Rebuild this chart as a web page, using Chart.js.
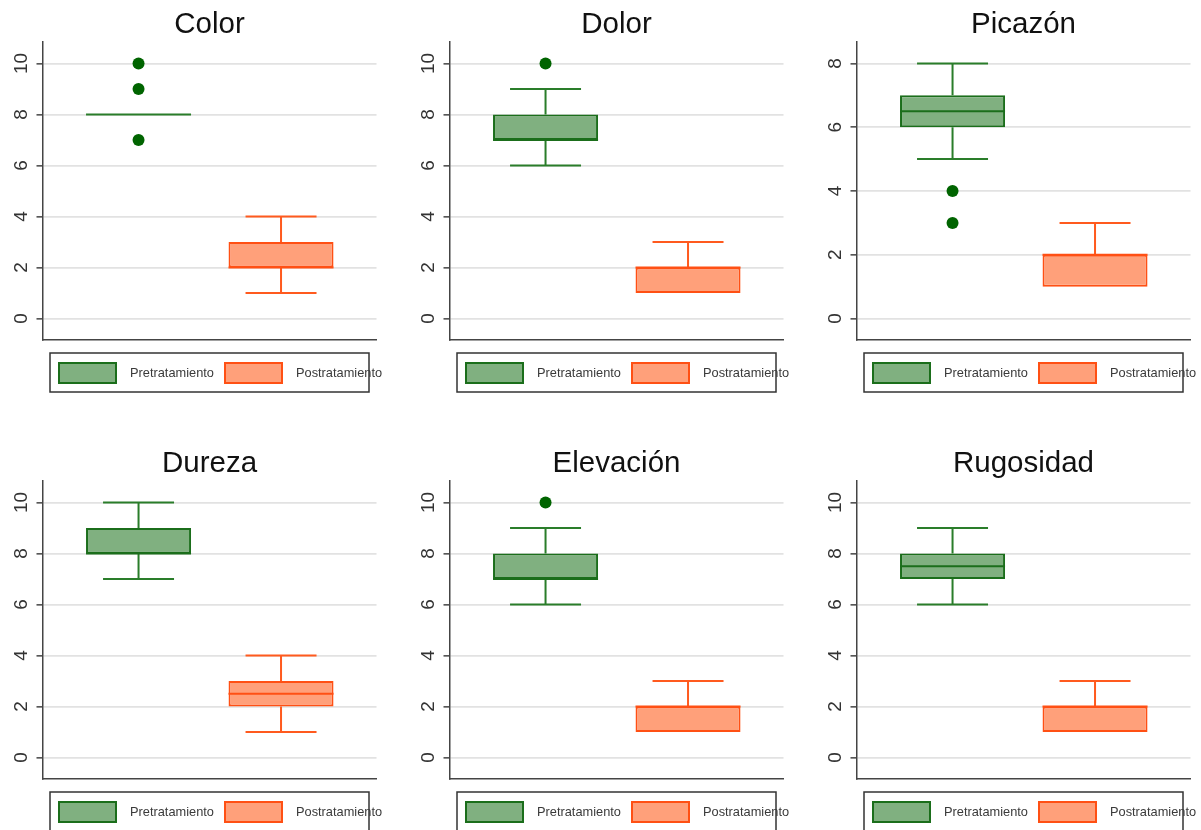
<!DOCTYPE html>
<html>
<head>
<meta charset="utf-8">
<script src="https://cdn.jsdelivr.net/npm/chart.js@4.4.1/dist/chart.umd.min.js"></script>
<style>
  html, body { margin: 0; padding: 0; background: #fff; width: 1201px; height: 830px; overflow: hidden; }
  #grid { position: relative; width: 1201px; height: 830px; }
  .panel { position: absolute; width: 407px; height: 439px; }
</style>
</head>
<body>
<div id="grid"></div>
<script>
// Box-plot summaries (score 0-10) before and after treatment, one entry per panel
const panelTitles = ['Color', 'Dolor', 'Picazón', 'Dureza', 'Elevación', 'Rugosidad'];
const seriesLabels = ['Pretratamiento', 'Postratamiento'];

const preMin      = [8, 6, 5,   7, 6, 6];
const preQ1       = [8, 7, 6,   8, 7, 7];
const preMedian   = [8, 7, 6.5, 8, 7, 7.5];
const preQ3       = [8, 8, 7,   9, 8, 8];
const preMax      = [8, 9, 8,  10, 9, 9];
const preOutliers = [[10, 9, 7], [10], [4, 3], [], [10], []];

const postMin      = [1, 1, 1, 1,   1, 1];
const postQ1       = [2, 1, 1, 2,   1, 1];
const postMedian   = [2, 2, 2, 2.5, 2, 2];
const postQ3       = [3, 2, 2, 3,   2, 2];
const postMax      = [4, 3, 3, 4,   3, 3];
const postOutliers = [[], [], [], [], [], []];

// Highest labelled tick on each panel's y axis, and tick spacing
const yTopTick = [10, 10, 8, 10, 10, 10];
const yTickStep = 2;

const FONT = "'Liberation Sans', Arial, Helvetica, sans-serif";
const PRE  = { fill: '#80b080', line: '#1b6e1b', whisker: '#2a7d2a', dot: '#006400' };
const POST = { fill: '#ffa07a', line: '#ff5014', whisker: '#ff5a1e' };

// Whiskers (behind the boxes) and median lines (on top of them)
function drawBoxParts(chart, part) {
  const y = chart.scales.y;
  const ctx = chart.ctx;
  chart.data.datasets.forEach((ds, k) => {
    if (!ds.stats) return;
    const el = chart.getDatasetMeta(k).data[0];
    if (!el) return;
    const [q1, q3] = ds.data[0].y;
    ctx.save();
    ctx.lineCap = 'butt';
    if (part === 'whiskers') {
      ctx.strokeStyle = ds.whiskerColor;
      ctx.lineWidth = 2;
      const cap = el.width * 0.676 / 2;
      [[q3, ds.stats.max], [q1, ds.stats.min]].forEach(([from, to]) => {
        if (from === to) return;
        const p0 = y.getPixelForValue(from);
        const p1 = y.getPixelForValue(to);
        ctx.beginPath();
        ctx.moveTo(el.x, p0); ctx.lineTo(el.x, p1);
        ctx.moveTo(el.x - cap, p1); ctx.lineTo(el.x + cap, p1);
        ctx.stroke();
      });
    } else {
      ctx.strokeStyle = (q1 === q3) ? ds.whiskerColor : ds.borderColor;
      ctx.lineWidth = 2;
      const pm = y.getPixelForValue(ds.stats.median);
      ctx.beginPath();
      ctx.moveTo(el.x - el.width / 2, pm);
      ctx.lineTo(el.x + el.width / 2, pm);
      ctx.stroke();
    }
    ctx.restore();
  });
}

const boxWhiskerPlugin = {
  id: 'boxWhiskers',
  beforeDatasetsDraw(chart) { drawBoxParts(chart, 'whiskers'); },
  afterDatasetsDraw(chart) { drawBoxParts(chart, 'median'); }
};

// Framed legend under the plot, built from the two box datasets
const framedLegendPlugin = {
  id: 'framedLegend',
  afterDraw(chart) {
    const { ctx, chartArea: a } = chart;
    const sets = chart.data.datasets.filter(ds => ds.stats);
    ctx.save();
    ctx.strokeStyle = '#333';
    ctx.lineWidth = 1.5;
    ctx.strokeRect(a.left + 7.5, a.bottom + 13, 319, 39);
    sets.forEach((ds, k) => {
      const sx = a.left + 16.5 + k * 166;
      ctx.fillStyle = ds.backgroundColor;
      ctx.fillRect(sx, a.bottom + 23, 57, 20);
      ctx.strokeStyle = ds.borderColor;
      ctx.lineWidth = 2;
      ctx.strokeRect(sx, a.bottom + 23, 57, 20);
      ctx.fillStyle = '#3a3a3a';
      ctx.font = `12.8px ${FONT}`;
      ctx.textBaseline = 'middle';
      ctx.textAlign = 'left';
      ctx.fillText(ds.label, sx + 71, a.bottom + 33.5);
    });
    ctx.restore();
  }
};

const measureCtx = document.createElement('canvas').getContext('2d');
const grid = document.getElementById('grid');

function makePanel(i) {
  const div = document.createElement('div');
  div.className = 'panel';
  div.style.left = (-7 + 407 * (i % 3)) + 'px';
  div.style.top = (439 * Math.floor(i / 3)) + 'px';
  const canvas = document.createElement('canvas');
  div.appendChild(canvas);
  grid.appendChild(div);

  const top = yTopTick[i];
  const pad = top * 0.084;
  measureCtx.font = `19px ${FONT}`;
  const widest = measureCtx.measureText(String(top)).width;

  new Chart(canvas, {
    type: 'bar',
    data: {
      datasets: [
        {
          label: seriesLabels[0],
          data: [{ x: 1, y: [preQ1[i], preQ3[i]] }],
          stats: { min: preMin[i], median: preMedian[i], max: preMax[i] },
          backgroundColor: PRE.fill, borderColor: PRE.line, whiskerColor: PRE.whisker,
          borderWidth: 2, borderSkipped: false, grouped: false,
          categoryPercentage: 1, barPercentage: 0.737
        },
        {
          label: seriesLabels[1],
          data: [{ x: 2, y: [postQ1[i], postQ3[i]] }],
          stats: { min: postMin[i], median: postMedian[i], max: postMax[i] },
          backgroundColor: POST.fill, borderColor: POST.line, whiskerColor: POST.whisker,
          borderWidth: 2, borderSkipped: false, grouped: false,
          categoryPercentage: 1, barPercentage: 0.737
        },
        {
          type: 'scatter',
          label: 'outliers',
          data: preOutliers[i].map(v => ({ x: 1, y: v }))
            .concat(postOutliers[i].map(v => ({ x: 2, y: v }))),
          pointRadius: 6, pointHoverRadius: 6,
          backgroundColor: PRE.dot, borderWidth: 0
        }
      ]
    },
    options: {
      responsive: true,
      maintainAspectRatio: false,
      animation: false,
      devicePixelRatio: 1,
      layout: { padding: { left: 0, right: 23.5, top: 0, bottom: 99 } },
      plugins: {
        legend: { display: false },
        tooltip: { enabled: false },
        title: {
          display: true,
          text: panelTitles[i],
          fullSize: false,
          color: '#111',
          font: { family: FONT, size: 29.5, weight: 'normal', lineHeight: 1.1 },
          padding: { top: 8.5, bottom: 1.05 }
        }
      },
      scales: {
        x: {
          type: 'linear',
          offset: false,
          min: 0.326, max: 2.67,
          ticks: { display: false, stepSize: 1, includeBounds: false },
          grid: { display: true, offset: false, drawOnChartArea: false, drawTicks: false },
          border: { display: true, color: '#444', width: 1.5 }
        },
        y: {
          min: -pad, max: top + pad,
          afterFit: s => { s.width = 49.5; },
          ticks: {
            stepSize: yTickStep, includeBounds: false,
            minRotation: 90, maxRotation: 90, crossAlign: 'center',
            padding: 49.5 - 6 - 28.5 - widest / 2,
            color: '#333',
            font: { family: FONT, size: 19 }
          },
          grid: { color: '#e2e2e2', lineWidth: 1.7, tickColor: '#444', tickLength: 6, tickWidth: 1.5 },
          border: { color: '#444', width: 1.5 }
        }
      }
    },
    plugins: [boxWhiskerPlugin, framedLegendPlugin]
  });
}

for (let i = 0; i < panelTitles.length; i++) makePanel(i);
</script>
</body>
</html>
